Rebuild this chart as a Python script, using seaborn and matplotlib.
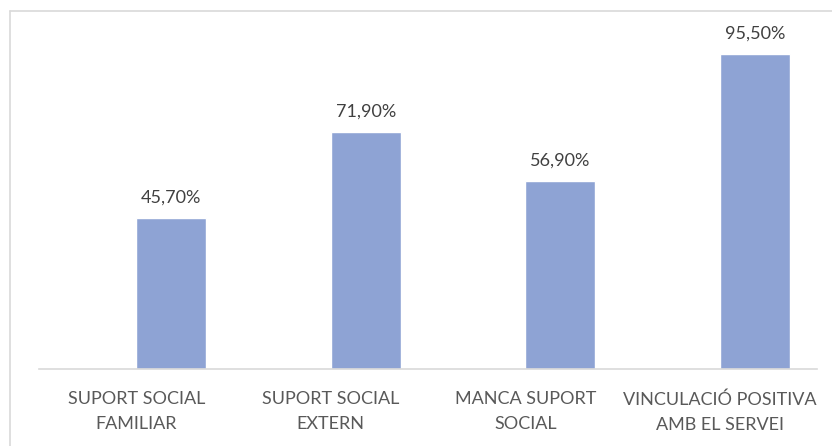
import matplotlib
matplotlib.use("Agg")
import matplotlib.pyplot as plt
import seaborn as sns
import pandas as pd
from matplotlib.lines import Line2D

categories = ["SUPORT SOCIAL\nFAMILIAR", "SUPORT SOCIAL\nEXTERN", "MANCA SUPORT\nSOCIAL", "VINCULACIÓ POSITIVA\nAMB EL SERVEI"]
values = [45.7, 71.9, 56.9, 95.5]
value_labels = ["45,70%", "71,90%", "56,90%", "95,50%"]
# the original chart holds an empty first series that shifts bars right
series_names = ["buit", "percentatge"]
empty_series = [float("nan")] * 4

sns.set_theme(style="white")
plt.rcParams['font.family'] = ['Lato', 'DejaVu Sans']

W, H = 832, 446
fig = plt.figure(figsize=(W / 100, H / 100), dpi=100)
left_px, right_px, bottom_px, top_px = 39, 817, 369, 11
ax = fig.add_axes([left_px / W, (H - bottom_px) / H, (right_px - left_px) / W, (bottom_px - top_px) / H])

df = pd.DataFrame({
    "cat": categories * 2,
    "val": empty_series + values,
    "serie": [series_names[0]] * 4 + [series_names[1]] * 4,
})
sns.barplot(data=df, x="cat", y="val", hue="serie", hue_order=series_names,
            palette=["#8EA3D4", "#8EA3D4"], saturation=1, width=0.72, dodge=True,
            legend=False, ax=ax)

ax.set_xlim(-0.5, 3.5)
ymax = (bottom_px - top_px) / (314.7 / 95.5)
ax.set_ylim(0, ymax)

bars = [p for p in ax.patches if p.get_height() == p.get_height() and p.get_height() > 0]
bars.sort(key=lambda p: p.get_x())
for p, lab in zip(bars, value_labels):
    ax.annotate(lab, (p.get_x() + p.get_width() / 2, p.get_height()), xytext=(0, 9),
                textcoords="offset points", ha="center", va="bottom",
                fontsize=13, color="#404040")

ax.set_xlabel("")
ax.set_ylabel("")
ax.set_yticks([])
for s in ["top", "right", "left"]:
    ax.spines[s].set_visible(False)
ax.spines["bottom"].set_color("#d9d9d9")
ax.spines["bottom"].set_linewidth(1.2)
ax.tick_params(axis="x", length=0, pad=16, labelsize=13, labelcolor="#595959")
for t in ax.get_xticklabels():
    t.set_linespacing(1.7)

# chart frame
fig.add_artist(Line2D([10 / W, 1], [1 - 10.7 / H, 1 - 10.7 / H], color="#d9d9d9", lw=1.2, transform=fig.transFigure))
fig.add_artist(Line2D([10 / W, 10 / W], [0, 1 - 10.7 / H], color="#d9d9d9", lw=1.2, transform=fig.transFigure))

fig.savefig("out.png", dpi=100)
